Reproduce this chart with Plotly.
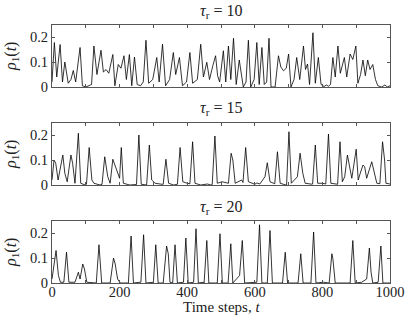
import plotly.graph_objects as go

# ---- data (time step, rho_1) ----
t10 = [0, 7, 14, 24, 31, 38, 48, 56, 63, 70, 83, 90, 100, 110, 117, 124, 133, 145, 152, 160, 168, 180, 186, 196, 204, 213, 220, 229, 236, 244, 252, 262, 270, 278, 286, 298, 310, 317, 327, 336, 348, 359, 366, 377, 386, 398, 408, 416, 430, 440, 448, 458, 466, 476, 484, 490, 496, 507, 514, 522, 529, 537, 545, 554, 560, 566, 574, 581, 588, 598, 606, 613, 621, 628, 635, 642, 648, 660, 670, 677, 685, 693, 700, 707, 716, 724, 733, 744, 750, 756, 762, 772, 779, 788, 796, 805, 812, 818, 824, 831, 838, 846, 853, 865, 872, 882, 890, 899, 905, 913, 920, 927, 934, 941, 949, 957, 964, 975, 985, 992, 1000]
v10 = [0.02, 0.178, 0.04, 0.17, 0.02, 0.10, 0.015, 0.03, 0.066, 0.02, 0.158, 0.005, 0.0, 0.005, 0.01, 0.164, 0.05, 0.147, 0.06, 0.07, 0.055, 0.13, 0.005, 0.09, 0.075, 0.125, 0.03, 0.13, 0.005, 0.12, 0.01, 0.005, 0.02, 0.187, 0.015, 0.03, 0.118, 0.02, 0.171, 0.005, 0.03, 0.138, 0.05, 0.118, 0.005, 0.02, 0.138, 0.015, 0.03, 0.171, 0.04, 0.099, 0.03, 0.086, 0.125, 0.045, 0.02, 0.145, 0.02, 0.164, 0.03, 0.195, 0.01, 0.108, 0.06, 0.0, 0.02, 0.187, 0.0, 0.03, 0.178, 0.01, 0.158, 0.01, 0.02, 0.195, 0.0, 0.0, 0.125, 0.08, 0.065, 0.075, 0.132, 0.0, 0.03, 0.118, 0.03, 0.164, 0.07, 0.092, 0.01, 0.217, 0.015, 0.118, 0.01, 0.002, 0.008, 0.003, 0.01, 0.118, 0.04, 0.164, 0.055, 0.118, 0.04, 0.132, 0.11, 0.164, 0.015, 0.05, 0.108, 0.045, 0.108, 0.07, 0.09, 0.03, 0.005, 0.0, 0.008, 0.0, 0.005]

t15 = [0, 6, 11, 18, 32, 38, 45, 56, 61, 68, 78, 85, 98, 102, 110, 118, 124, 142, 148, 156, 165, 172, 180, 187, 194, 200, 205, 211, 230, 250, 257, 264, 280, 288, 295, 305, 325, 329, 337, 345, 360, 371, 379, 387, 400, 408, 416, 423, 440, 460, 470, 474, 482, 489, 503, 522, 530, 535, 542, 561, 565, 573, 581, 600, 606, 615, 630, 637, 645, 659, 667, 675, 692, 694, 701, 708, 726, 734, 742, 749, 770, 771, 779, 786, 800, 810, 818, 825, 845, 852, 859, 866, 874, 880, 887, 900, 906, 912, 920, 925, 931, 946, 953, 961, 970, 978, 984, 988, 1000]
v15 = [0.02, 0.10, 0.087, 0.02, 0.12, 0.047, 0.013, 0.12, 0.087, 0.007, 0.207, 0.007, 0.0, 0.003, 0.15, 0.02, 0.007, 0.0, 0.003, 0.113, 0.033, 0.007, 0.103, 0.073, 0.047, 0.027, 0.15, 0.007, 0.0, 0.002, 0.2, 0.003, 0.0, 0.16, 0.02, 0.007, 0.003, 0.003, 0.103, 0.007, 0.0, 0.003, 0.15, 0.013, 0.007, 0.005, 0.173, 0.007, 0.0, 0.004, 0.0, 0.002, 0.196, 0.007, 0.013, 0.007, 0.127, 0.1, 0.007, 0.02, 0.01, 0.15, 0.013, 0.003, 0.008, 0.004, 0.033, 0.089, 0.013, 0.005, 0.133, 0.007, 0.0, 0.0, 0.213, 0.007, 0.033, 0.127, 0.047, 0.007, 0.003, 0.004, 0.16, 0.007, 0.007, 0.004, 0.204, 0.007, 0.003, 0.173, 0.013, 0.033, 0.12, 0.08, 0.027, 0.143, 0.02, 0.047, 0.08, 0.073, 0.027, 0.093, 0.047, 0.007, 0.005, 0.173, 0.1, 0.007, 0.004]

t20 = [0, 12, 19, 25, 35, 43, 50, 68, 78, 83, 91, 96, 103, 123, 131, 139, 147, 172, 182, 187, 194, 202, 226, 234, 241, 260, 263, 271, 278, 300, 307, 314, 329, 339, 344, 349, 357, 364, 371, 389, 396, 403, 419, 426, 433, 448, 450, 458, 464, 483, 489, 497, 504, 519, 521, 529, 535, 555, 563, 570, 581, 596, 606, 614, 621, 636, 637, 645, 652, 680, 682, 690, 697, 726, 728, 736, 743, 764, 766, 774, 781, 803, 818, 820, 828, 831, 838, 862, 882, 890, 897, 916, 931, 939, 944, 949, 961, 965, 973, 979, 1000]
v20 = [0.016, 0.13, 0.03, 0.003, 0.003, 0.123, 0.003, 0.003, 0.043, 0.016, 0.076, 0.056, 0.003, 0.0, 0.0, 0.153, 0.0, 0.0, 0.1, 0.076, 0.016, 0.0, 0.0, 0.188, 0.0, 0.003, 0.003, 0.193, 0.0, 0.003, 0.153, 0.0, 0.0, 0.148, 0.117, 0.003, 0.0, 0.153, 0.0, 0.003, 0.18, 0.0, 0.003, 0.217, 0.0, 0.003, 0.0, 0.17, 0.0, 0.0, 0.0, 0.197, 0.0, 0.0, 0.0, 0.157, 0.0, 0.03, 0.17, 0.0, 0.0, 0.003, 0.003, 0.233, 0.0, 0.0, 0.0, 0.21, 0.0, 0.0, 0.0, 0.123, 0.0, 0.0, 0.0, 0.117, 0.0, 0.0, 0.0, 0.204, 0.0, 0.003, 0.0, 0.0, 0.117, 0.097, 0.0, 0.0, 0.0, 0.17, 0.0, 0.003, 0.016, 0.14, 0.043, 0.0, 0.003, 0.003, 0.148, 0.0, 0.0]

titles = ["<i>τ</i><sub>r</sub> = 10", "<i>τ</i><sub>r</sub> = 15", "<i>τ</i><sub>r</sub> = 20"]
x_title = "Time steps, <i>t</i>"
y_title = "<i>ρ</i><sub>1</sub>(<i>t</i>)"
x_ticks = [0, 200, 400, 600, 800, 1000]
y_ticks = [0, 0.1, 0.2]

W, H = 415, 319
FONT = "Liberation Serif"
TXT = "#222"
x_dom = [52 / W, 390 / W]
# (top px, bottom px) of each panel
panels_px = [(24.5, 87), (122.5, 185), (220.5, 283)]

fig = go.Figure()
series = [(t10, v10), (t15, v15), (t20, v20)]
for i, ((tt, vv), (top, bot)) in enumerate(zip(series, panels_px)):
    n = i + 1
    xa = "x" if n == 1 else f"x{n}"
    ya = "y" if n == 1 else f"y{n}"
    fig.add_trace(go.Scatter(x=tt, y=vv, mode="lines", xaxis=xa, yaxis=ya,
                             line=dict(color="black", width=0.8), showlegend=False,
                             hoverinfo="skip"))
    ydom = [1 - bot / H, 1 - top / H]
    axis_common = dict(showline=True, linecolor="#555", linewidth=1, mirror="ticks",
                       ticks="inside", tickcolor="#555", ticklen=3, showgrid=False,
                       zeroline=False, tickfont=dict(family=FONT, size=14.5, color=TXT),
                       automargin=False)
    fig.layout[f"xaxis{'' if n == 1 else n}"] = dict(
        domain=x_dom, anchor=ya, range=[0, 1000], tickvals=x_ticks,
        showticklabels=(n == 3), ticklabelstandoff=-4,
        minor=dict(dtick=100, tick0=0, ticks="inside", ticklen=3, tickcolor="#555"),
        **axis_common)
    fig.layout[f"yaxis{'' if n == 1 else n}"] = dict(
        domain=ydom, anchor=xa, range=[0, 0.25], tickvals=y_ticks,
        ticktext=["0", "0.1", "0.2"],
        title=dict(text=y_title, font=dict(family=FONT, size=16, color=TXT), standoff=9),
        **axis_common)
    fig.add_annotation(text=titles[i], xref="paper", yref="paper",
                       x=(x_dom[0] + x_dom[1]) / 2, y=ydom[1], yanchor="bottom",
                       xanchor="center", yshift=2, showarrow=False,
                       font=dict(family=FONT, size=16, color=TXT))

# x-axis title of the bottom panel
fig.add_annotation(text=x_title, xref="paper", yref="paper",
                   x=(x_dom[0] + x_dom[1]) / 2, y=1 - 307 / H, yanchor="middle",
                   xanchor="center", showarrow=False,
                   font=dict(family=FONT, size=15, color=TXT))

fig.update_layout(width=W, height=H, margin=dict(l=0, r=0, t=0, b=0),
                  paper_bgcolor="white", plot_bgcolor="white")
fig.write_html("out.html", config={"displayModeBar": False},
               post_script="document.body.style.margin='0';document.body.style.padding='0';document.body.style.overflow='hidden';")
